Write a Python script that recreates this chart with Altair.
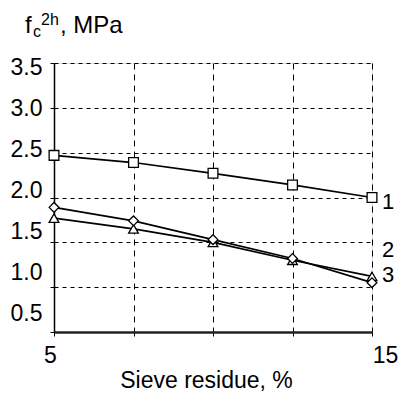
import altair as alt
import pandas as pd

# ---- data ----
sieve_residue = [5, 7.5, 10, 12.5, 15]
series_1 = [2.47, 2.39, 2.27, 2.14, 2.00]   # squares
series_2 = [1.77, 1.65, 1.50, 1.30, 1.12]   # triangles
series_3 = [1.89, 1.74, 1.53, 1.32, 1.05]   # diamonds
series_names = ["1", "2", "3"]
series_shapes = ["square", "triangle-up", "diamond"]
label_values = [1.945, 1.41, 1.14]
y_ticks = [0.5, 1.0, 1.5, 2.0, 2.5, 3.0, 3.5]
x_ticks = [5, 7.5, 10, 12.5, 15]

FONT = "Liberation Sans"

rows = []
for name, vals in zip(series_names, [series_1, series_2, series_3]):
    for x, y in zip(sieve_residue, vals):
        rows.append({"x": x, "y": y, "s": name})
df = pd.DataFrame(rows)

labels_df = pd.DataFrame({"x": [15] * 3, "y": label_values, "s": series_names})

W, H = 318, 269

xscale = alt.Scale(domain=[5, 15], nice=False, zero=False)
yscale = alt.Scale(domain=[0.5, 3.5], nice=False, zero=False)

y_off = [{"test": f"datum.value == {v}", "value": round(4 - 7.4 * (3.5 - v), 1)} for v in y_ticks]
x_off = [{"test": "datum.value == 5", "value": -4}, {"test": "datum.value == 15", "value": 13}]

x_axis = alt.Axis(
    values=x_ticks, grid=True, gridColor="black", gridDash=[6, 5], gridWidth=1,
    labelExpr="(datum.value == 5 || datum.value == 15) ? datum.label : ''",
    labelFont=FONT, labelFontSize=23, labelColor="black", labelPadding=8,
    labelFlush=False, labelOverlap=False,
    labelOffset={"condition": x_off, "value": 0},
    tickColor="black", tickSize=4, domainColor="#222", domainWidth=2.5,
    title="Sieve residue, %", titleFont=FONT, titleFontSize=23, titleFontWeight="normal",
    titleColor="black", titleX=152, titleY=55, titleBaseline="alphabetic", titleAnchor="middle",
    titleAlign="center",
)
y_axis = alt.Axis(
    values=y_ticks, format=".1f", grid=True, gridColor="black", gridDash=[4, 4], gridWidth=1,
    labelFont=FONT, labelFontSize=23, labelColor="black", labelPadding=8,
    labelFlush=False, labelOverlap=False,
    labelOffset={"condition": y_off, "value": 0},
    tickColor="black", tickSize=4, domainColor="black", domainWidth=1.5, title=None,
)

base = alt.Chart(df)

lines = base.mark_line(color="black", strokeWidth=1.7).encode(
    x=alt.X("x:Q", scale=xscale, axis=x_axis),
    y=alt.Y("y:Q", scale=yscale, axis=y_axis),
    detail="s:N",
)

points = base.mark_point(filled=True, fill="white", stroke="black", strokeWidth=1.3, size=95, opacity=1).encode(
    x=alt.X("x:Q", scale=xscale),
    y=alt.Y("y:Q", scale=yscale),
    shape=alt.Shape("s:N", scale=alt.Scale(domain=series_names, range=series_shapes), legend=None),
)

series_labels = alt.Chart(labels_df).mark_text(
    align="left", baseline="middle", dx=10, font=FONT, fontSize=22, color="black"
).encode(
    x=alt.X("x:Q", scale=xscale),
    y=alt.Y("y:Q", scale=yscale),
    text="s:N",
)

def piece(txt, px, py, size):
    return alt.Chart(pd.DataFrame({"t": [txt]})).mark_text(
        align="left", baseline="alphabetic", font=FONT, fontSize=size, color="black"
    ).encode(x=alt.value(px), y=alt.value(py), text="t:N")

title_pieces = (
    piece("f", -29, -30, 24)
    + piece("c", -21, -26, 16)
    + piece("2h", -13, -38, 16)
    + piece(", MPa", 6, -30, 24)
)

chart = alt.layer(lines, points, series_labels, title_pieces).properties(
    width=W, height=H,
    autosize=alt.AutoSizeParams(type="none"),
    padding={"left": 46, "top": 55, "right": 26, "bottom": 61},
).configure_view(stroke="black", strokeWidth=1.2).configure(background="white")

chart.save("out.html", embed_options={"renderer": "svg", "actions": False})
